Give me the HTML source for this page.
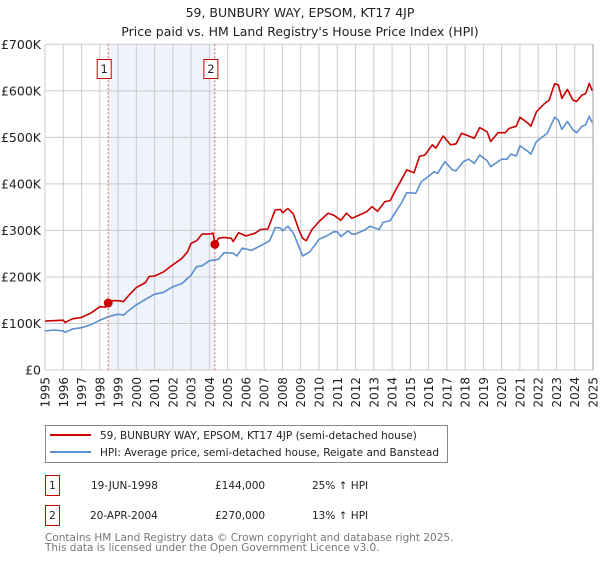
<!DOCTYPE html>
<html><head><meta charset="utf-8">
<style>
body{margin:0;background:#fff;width:600px;height:560px;overflow:hidden;font-family:"DejaVu Sans","Liberation Sans",sans-serif;}
svg text{font-family:"DejaVu Sans","Liberation Sans",sans-serif;}
</style></head>
<body>
<svg id="chart" width="600" height="560" viewBox="0 0 600 560" xmlns="http://www.w3.org/2000/svg">
<text x="300" y="17" font-size="12.5" text-anchor="middle" fill="#222">59, BUNBURY WAY, EPSOM, KT17 4JP</text>
<text x="300" y="36" font-size="12.5" text-anchor="middle" fill="#222">Price paid vs. HM Land Registry's House Price Index (HPI)</text>
<g id="plot"></g>
<g>
<rect x="45.5" y="425.5" width="402" height="37" fill="#fff" stroke="#888"/>
<line x1="50" y1="435" x2="91" y2="435" stroke="#cc0000" stroke-width="2"/>
<text x="100" y="439" font-size="10.5" fill="#222">59, BUNBURY WAY, EPSOM, KT17 4JP (semi-detached house)</text>
<line x1="50" y1="452" x2="91" y2="452" stroke="#5b8fd0" stroke-width="2"/>
<text x="100" y="456" font-size="10.5" fill="#222">HPI: Average price, semi-detached house, Reigate and Banstead</text>
</g>
<g font-size="10.5" fill="#222">
<rect x="45.5" y="475.5" width="14" height="20" fill="#fff" stroke="#cc0000"/>
<text x="52.5" y="489" text-anchor="middle">1</text>
<text x="91" y="489">19-JUN-1998</text>
<text x="215" y="489">£144,000</text>
<text x="312" y="489">25% ↑ HPI</text>
<rect x="45.5" y="505.5" width="14" height="20" fill="#fff" stroke="#cc0000"/>
<text x="52.5" y="519" text-anchor="middle">2</text>
<text x="90" y="519">20-APR-2004</text>
<text x="215" y="519">£270,000</text>
<text x="312" y="519">13% ↑ HPI</text>
</g>
<text x="45" y="541" font-size="10.5" fill="#777">Contains HM Land Registry data © Crown copyright and database right 2025.</text>
<text x="45" y="551" font-size="10.5" fill="#777">This data is licensed under the Open Government Licence v3.0.</text>
</svg>
<script>
const yTicks=[0,100000,200000,300000,400000,500000,600000,700000];
const yTickLabels=["£0","£100K","£200K","£300K","£400K","£500K","£600K","£700K"];
const xYears=[1995,1996,1997,1998,1999,2000,2001,2002,2003,2004,2005,2006,2007,2008,2009,2010,2011,2012,2013,2014,2015,2016,2017,2018,2019,2020,2021,2022,2023,2024,2025];
const hpiT=[1995.0,1995.5,1996.0,1996.1,1996.5,1997.0,1997.5,1998.0,1998.5,1999.0,1999.3,1999.5,2000.0,2000.5,2001.0,2001.5,2002.0,2002.5,2003.0,2003.3,2003.6,2004.0,2004.5,2004.8,2005.3,2005.5,2005.8,2006.3,2006.9,2007.3,2007.6,2007.9,2008.0,2008.3,2008.6,2008.9,2009.1,2009.5,2010.0,2010.5,2010.8,2011.0,2011.2,2011.6,2011.8,2012.0,2012.5,2012.8,2013.3,2013.5,2013.9,2014.2,2014.5,2014.8,2015.3,2015.6,2016.0,2016.3,2016.5,2016.9,2017.3,2017.5,2017.9,2018.2,2018.5,2018.8,2019.2,2019.4,2019.8,2020.0,2020.3,2020.5,2020.8,2021.0,2021.4,2021.6,2021.9,2022.3,2022.5,2022.9,2023.1,2023.3,2023.6,2023.9,2024.1,2024.4,2024.6,2024.8,2024.95];
const hpiV=[84,86,84,81,88,91,97,107,115,120,118,125,140,152,163,167,179,186,204,222,224,235,238,252,251,245,262,257,269,278,306,305,299,309,294,265,245,254,281,290,297,297,287,299,292,292,301,309,302,317,321,340,358,381,380,405,416,426,423,448,430,428,448,453,444,462,450,437,448,453,453,464,460,482,471,464,491,503,509,543,537,517,534,516,510,524,527,545,532];
const priceT=[1995.0,1996.0,1996.1,1996.5,1997.0,1997.5,1998.0,1998.3,1998.46,1998.7,1999.0,1999.3,1999.6,2000.0,2000.5,2000.7,2001.0,2001.5,2002.0,2002.5,2002.8,2003.0,2003.3,2003.6,2004.0,2004.2,2004.3,2004.5,2004.8,2005.2,2005.3,2005.6,2006.0,2006.5,2006.8,2007.2,2007.6,2007.9,2008.0,2008.3,2008.6,2008.9,2009.1,2009.3,2009.6,2010.0,2010.5,2010.8,2011.2,2011.5,2011.8,2012.2,2012.6,2012.9,2013.2,2013.6,2013.9,2014.2,2014.5,2014.8,2015.2,2015.5,2015.8,2016.2,2016.4,2016.8,2017.2,2017.5,2017.8,2018.2,2018.5,2018.8,2019.2,2019.4,2019.8,2020.2,2020.4,2020.8,2021.0,2021.4,2021.6,2021.9,2022.3,2022.6,2022.9,2023.1,2023.3,2023.6,2023.9,2024.1,2024.4,2024.6,2024.8,2024.95];
const priceV=[105,107,102,110,113,122,136,135,143,149,149,147,161,177,188,201,202,211,226,240,254,272,278,292,292,294,271,283,285,283,276,295,288,294,302,303,344,345,338,347,335,301,283,278,301,319,337,333,322,337,326,333,340,351,341,362,364,387,408,430,424,459,462,484,477,503,484,486,509,503,498,521,512,491,510,510,519,524,543,532,524,555,571,580,615,613,584,603,580,577,591,594,616,601];
const saleT=[1998.46,2004.3];
const saleV=[144000,270000];
const saleLabels=["1","2"];

const X0=45,X1=593,Y0=370,Y1=44.3;
const xs=t=>X0+(t-1995)/(2025-1995)*(X1-X0);
const ys=v=>Y0-v/700000*(Y0-Y1);
const NS="http://www.w3.org/2000/svg";
const plot=document.getElementById('plot');
function mk(tag,attrs,parent){const e=document.createElementNS(NS,tag);for(const k in attrs)e.setAttribute(k,attrs[k]);(parent||plot).appendChild(e);return e;}

const shade=mk('rect',{x:xs(saleT[0]),y:Y1,width:xs(saleT[1])-xs(saleT[0]),height:Y0-Y1,fill:'#eef3fc'});


xYears.forEach(yr=>{
  const g=mk('line',{x1:xs(yr),x2:xs(yr),y1:Y1,y2:Y0,stroke:'#cccccc','stroke-width':1});
  
  
  const t=mk('text',{x:0,y:0,'font-size':12,fill:'#222','text-anchor':'end',transform:`translate(${xs(yr)+4.5},377) rotate(-90)`});
  t.textContent=yr;
  
  
});
yTicks.forEach((v,i)=>{
  const g=mk('line',{x1:X0,x2:X1,y1:ys(v),y2:ys(v),stroke:'#cccccc','stroke-width':1});
  
  
  const t=mk('text',{x:41,y:ys(v)+4.5,'font-size':12.5,fill:'#222','text-anchor':'end'});
  t.textContent=yTickLabels[i];
  
  
});
const edge=mk('line',{x1:X1,x2:X1,y1:Y1,y2:Y0,stroke:'#999','stroke-width':1});



function pathFrom(T,V){return T.map((t,i)=>(i?'L':'M')+xs(t).toFixed(1)+','+ys(V[i]*1000).toFixed(1)).join(' ');}
const hpi=mk('path',{d:pathFrom(hpiT,hpiV),fill:'none',stroke:'#5b8fd0','stroke-width':1.6,'stroke-linejoin':'round'});


const pr=mk('path',{d:pathFrom(priceT,priceV),fill:'none',stroke:'#cc0000','stroke-width':1.6,'stroke-linejoin':'round'});



saleT.forEach((t,i)=>{
  const l=mk('line',{x1:xs(t),x2:xs(t),y1:Y1,y2:Y0,stroke:'#e06060','stroke-width':1,'stroke-dasharray':'2,2'});
  
  
  const c=mk('circle',{cx:xs(t),cy:ys(saleV[i]),r:4.5,fill:'#cc0000'});
  
  
  const b=mk('rect',{x:xs(t)-11,y:59.5,width:14,height:19,fill:'#fff',stroke:'#cc0000'});
  
  
  const tx=mk('text',{x:xs(t)-4,y:73,'font-size':11.5,fill:'#222','text-anchor':'middle'});
  tx.textContent=saleLabels[i];
  
  
});
</script>
</body></html>
